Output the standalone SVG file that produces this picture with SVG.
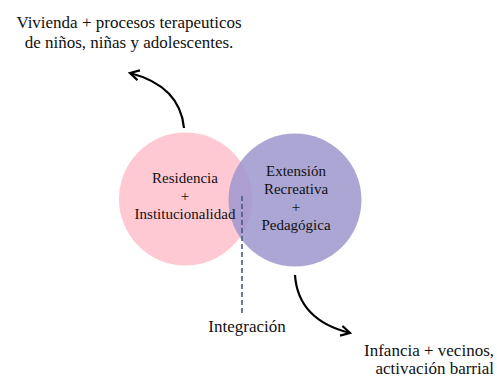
<svg xmlns="http://www.w3.org/2000/svg" width="497" height="379" viewBox="0 0 497 379" font-family="Liberation Serif, DejaVu Serif, serif">
<style>
text{fill:#111;}
.t{font-size:17px;}
.n{font-size:15px;}
.arr{fill:none;stroke:#000;stroke-width:2.2;}
</style>
<defs>
<marker id="ah" viewBox="0 0 12 12" refX="10" refY="6" markerWidth="12" markerHeight="12" markerUnits="userSpaceOnUse" orient="auto">
<path d="M1,1 L10,6 L1,11" fill="none" stroke="#000" stroke-width="2.2"/>
</marker>
</defs>
<rect width="497" height="379" fill="#fff"/>
<g id="residencia">
<circle cx="185.5" cy="199" r="66.5" fill="#ffc9d4"/>
</g>
<g id="extension">
<circle cx="295" cy="200" r="66.5" fill="#9d96cc" fill-opacity="0.85"/>
</g>
<g id="residencia-label">
<text class="n" x="185" y="183" text-anchor="middle">Residencia</text>
<text class="n" x="185" y="201" text-anchor="middle">+</text>
<text class="n" x="185" y="219" text-anchor="middle">Institucionalidad</text>
</g>
<g id="extension-label">
<text class="n" x="296" y="176" text-anchor="middle">Extensión</text>
<text class="n" x="296" y="194" text-anchor="middle">Recreativa</text>
<text class="n" x="296" y="212" text-anchor="middle">+</text>
<text class="n" x="296" y="230" text-anchor="middle">Pedagógica</text>
</g>
<g id="top-label">
<text class="t" x="129" y="28" text-anchor="middle">Vivienda + procesos terapeuticos</text>
<text class="t" x="129" y="48" text-anchor="middle">de niños, niñas y adolescentes.</text>
</g>
<g id="integracion">
<text class="t" x="247" y="332" text-anchor="middle">Integración</text>
</g>
<g id="bottom-label">
<text class="t" x="494" y="356" text-anchor="end">Infancia + vecinos,</text>
<text class="t" x="494" y="374" text-anchor="end">activación barrial</text>
</g>
<g id="connectors">
<path class="arr" d="M184,128 Q180,86 130,73" marker-end="url(#ah)"/>
<path class="arr" d="M295,275 Q298,320 350,333" marker-end="url(#ah)"/>
<line x1="242" y1="196" x2="242" y2="313" stroke="#4a5888" stroke-width="1.6" stroke-dasharray="5,3"/>
</g>
</svg>
